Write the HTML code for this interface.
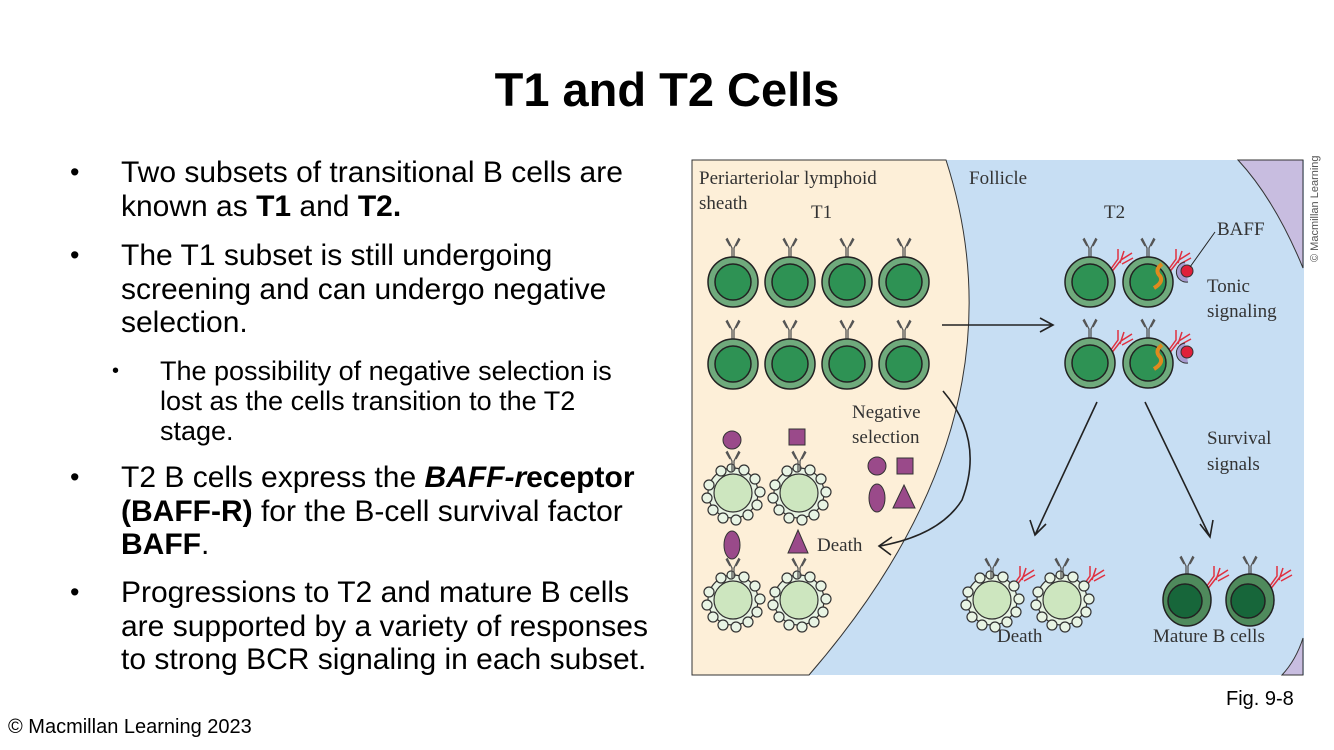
<!DOCTYPE html>
<html><head><meta charset="utf-8"><style>
body{margin:0;width:1334px;height:750px;background:#fff;font-family:"Liberation Sans",sans-serif;overflow:hidden;position:relative}
h1{position:absolute;left:0;width:1334px;top:62px;margin:0;text-align:center;font-size:47px;font-weight:bold}
.b{position:absolute;left:121px;font-size:30px;line-height:33.5px;width:552px}
.d{position:absolute;left:70px;font-size:27px;line-height:33.5px}
.s{position:absolute;left:160px;font-size:27px;line-height:30px;width:478px}
.sd{position:absolute;left:112px;font-size:20px;line-height:30px}
.ft{position:absolute;font-size:20px}
svg text{font-family:"Liberation Serif",serif;font-size:19px;fill:#333}
</style></head><body>
<h1>T1 and T2 Cells</h1>
<div class="d" style="top:156px">•</div><div class="b" style="top:156px">Two subsets of transitional B cells are known as <b>T1</b> and <b>T2.</b></div>
<div class="d" style="top:239px">•</div><div class="b" style="top:239px;width:545px">The T1 subset is still undergoing screening and can undergo negative selection.</div>
<div class="sd" style="top:356px">•</div><div class="s" style="top:356px">The possibility of negative selection is lost as the cells transition to the T2 stage.</div>
<div class="d" style="top:461px">•</div><div class="b" style="top:461px">T2 B cells express the <b><i>BAFF-r</i>eceptor (BAFF-R)</b> for the B-cell survival factor <b>BAFF</b>.</div>
<div class="d" style="top:576px">•</div><div class="b" style="top:576px;width:542px">Progressions to T2 and mature B cells are supported by a variety of responses to strong BCR signaling in each subset.</div>
<div class="ft" style="left:1226px;top:688px">Fig. 9-8</div>
<div class="ft" style="left:8px;top:716px">© Macmillan Learning 2023</div>
<svg style="position:absolute;left:0;top:0" width="1334" height="750">
<defs>
<g id="ab" fill="none" stroke="#555" stroke-width="1.3"><path d="M-1,0V-10L-6,-20M1,0V-10L6,-20M-3,-12L-7,-19M3,-12L7,-19"/></g>
<g id="rab" fill="none" stroke="#e03040" stroke-width="1.5"><path d="M0,0L10,-14L10,-24M2,1L13,-13L24,-20M12,-10L16,-22M14,-9L25,-15"/></g>
<g id="cell"><use href="#ab" y="-24"/><ellipse rx="25" ry="25" fill="#6faa7c" stroke="#222" stroke-width="1.5"/><circle cx="0" cy="0" r="18" fill="#2e9254" stroke="#222" stroke-width="1.5"/></g>
<g id="mcell"><use href="#ab" y="-24"/><ellipse rx="24" ry="26" fill="#4f8a5c" stroke="#222" stroke-width="1.5"/><circle cx="-2" cy="1" r="17" fill="#17663a" stroke="#222" stroke-width="1.5"/></g>
<g id="dcell" fill="#e8f4e4" stroke="#333" stroke-width="1.2">
<circle r="25"/><circle cx="-24" cy="-8" r="5"/><circle cx="-26" cy="5" r="5"/><circle cx="-20" cy="17" r="5"/><circle cx="-10" cy="25" r="5"/><circle cx="3" cy="27" r="5"/><circle cx="15" cy="22" r="5"/><circle cx="24" cy="12" r="5"/><circle cx="27" cy="-1" r="5"/><circle cx="22" cy="-14" r="5"/><circle cx="11" cy="-23" r="5"/><circle cx="-12" cy="-22" r="5"/><circle cx="-2" cy="-25" r="4"/>
<circle r="19" fill="#cde6bf"/><use href="#ab" y="-22"/></g>
</defs>
<rect x="692" y="160" width="612" height="515" fill="#c7def3"/>
<path d="M692,160H946Q1030,420 809,675H692Z" fill="#fdefd8" stroke="#333" stroke-width="1"/>
<path d="M1238,160H1303V268Q1275,200 1238,160Z" fill="#c8bde0" stroke="#333" stroke-width="1"/>
<path d="M1303,638V675H1282Q1296,660 1303,638Z" fill="#c8bde0" stroke="#333" stroke-width="1"/>
<text x="699" y="184">Periarteriolar lymphoid</text><text x="699" y="209">sheath</text><text x="811" y="218">T1</text>
<text x="969" y="184">Follicle</text><text x="1104" y="218">T2</text>
<text x="1217" y="235">BAFF</text><text x="1207" y="292">Tonic</text><text x="1207" y="317">signaling</text>
<text x="852" y="418">Negative</text><text x="852" y="443">selection</text>
<text x="1207" y="444">Survival</text><text x="1207" y="470">signals</text>
<text x="817" y="551">Death</text><text x="997" y="642">Death</text><text x="1153" y="642">Mature B cells</text>
<g>
<use href="#cell" x="733" y="282"/><use href="#cell" x="790" y="282"/><use href="#cell" x="847" y="282"/><use href="#cell" x="904" y="282"/>
<use href="#cell" x="733" y="364"/><use href="#cell" x="790" y="364"/><use href="#cell" x="847" y="364"/><use href="#cell" x="904" y="364"/>
</g>
<use href="#rab" x="1108" y="273"/><use href="#cell" x="1090" y="282"/>
<use href="#rab" x="1166" y="273"/><use href="#cell" x="1148" y="282"/>
<use href="#rab" x="1108" y="354"/><use href="#cell" x="1090" y="363"/>
<use href="#rab" x="1166" y="354"/><use href="#cell" x="1148" y="363"/>
<path d="M1162,264q-8,6 -2,12q4,6 -6,12M1162,345q-8,6 -2,12q4,6 -6,12" stroke="#e08a1e" stroke-width="4" fill="none"/>
<path d="M1185,262a10,10 0 1 0 3,20" fill="#a89bd0" stroke="#333"/><circle cx="1187" cy="271" r="6" fill="#e0203a" stroke="#333"/>
<path d="M1185,343a10,10 0 1 0 3,20" fill="#a89bd0" stroke="#333"/><circle cx="1187" cy="352" r="6" fill="#e0203a" stroke="#333"/>
<path d="M1190,267L1215,232" stroke="#222"/>
<use href="#dcell" x="733" y="493"/><use href="#dcell" x="799" y="493"/>
<use href="#dcell" x="733" y="600"/><use href="#dcell" x="799" y="600"/>
<use href="#rab" x="1010" y="590"/><use href="#dcell" x="992" y="600"/>
<use href="#rab" x="1080" y="590"/><use href="#dcell" x="1062" y="600"/>
<use href="#rab" x="1204" y="590"/><use href="#mcell" x="1187" y="600"/>
<use href="#rab" x="1267" y="590"/><use href="#mcell" x="1250" y="600"/>
<g fill="#9a4a8a" stroke="#333">
<circle cx="732" cy="440" r="9"/><rect x="789" y="429" width="16" height="16"/>
<circle cx="877" cy="466" r="9"/><rect x="897" y="458" width="16" height="16"/>
<ellipse cx="877" cy="498" rx="8" ry="14"/><path d="M904,485L915,508H893Z"/>
<ellipse cx="732" cy="545" rx="8" ry="14"/><path d="M798,530L808,553H788Z"/>
</g>
<g fill="none" stroke="#222" stroke-width="1.6">
<path d="M942,325H1052M1040,318L1053,325L1040,332"/>
<path d="M943,391Q985,440 962,500Q940,535 880,546M892,537L879,546L891,555"/>
<path d="M1097,402L1035,535M1030,520L1035,535L1046,524"/>
<path d="M1145,402L1210,537M1200,524L1210,537L1213,520"/>
</g>
<text transform="translate(1318,262) rotate(-90)" style="font-family:'Liberation Sans',sans-serif;font-size:11px;fill:#555">© Macmillan Learning</text>
</svg>
</body></html>
